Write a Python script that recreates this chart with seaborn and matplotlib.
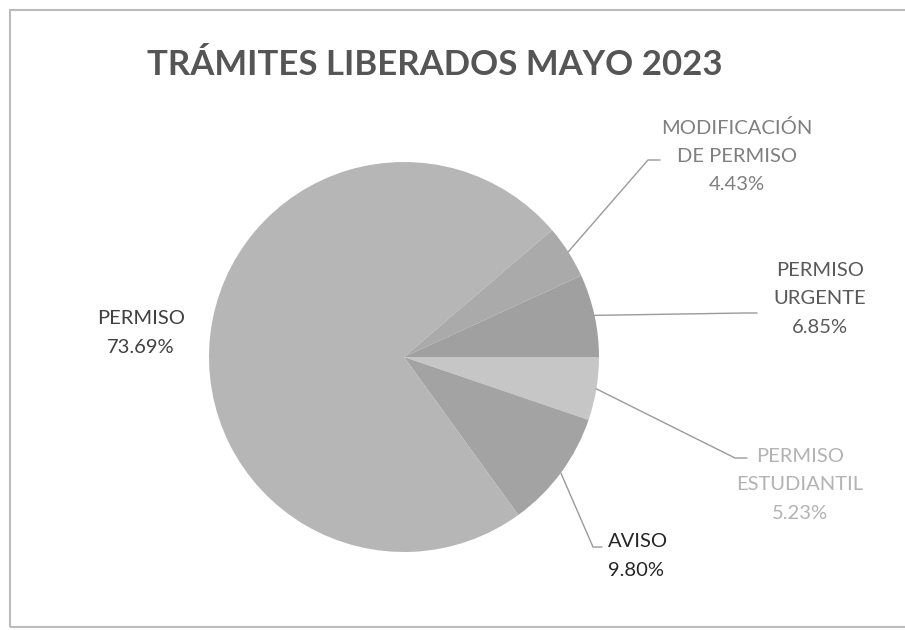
import numpy as np
import pandas as pd
import seaborn as sns
import matplotlib.pyplot as plt
from matplotlib.patches import Rectangle

# data, in the order the slices are drawn (clockwise from 3 o'clock)
categorias = ['PERMISO\nESTUDIANTIL', 'AVISO', 'PERMISO', 'MODIFICACIÓN\nDE PERMISO', 'PERMISO\nURGENTE']
porcentajes = [5.23, 9.80, 73.69, 4.43, 6.85]
titulo = 'TRÁMITES LIBERADOS MAYO 2023'

df = pd.DataFrame({'cat': categorias, 'pct': porcentajes})

colores_slice = ['#c6c6c6', '#a3a3a3', '#b6b6b6', '#aaaaaa', '#a0a0a0']
colores_txt = ['#b3b3b3', '#262626', '#404040', '#7f7f7f', '#595959']
# label text position (pixel coords, y down) and leader elbow
pos_txt = [(800, 485), (608, 556), (141, 333), (737, 156), (820, 299)]
codo = [(735, 458), (593, 547), None, (648, 160), (745, 313)]
ha_txt = ['center', 'left', 'center', 'center', 'center']

W, H = 905, 630
cx, cy, r = 404, 357, 195

sns.set_theme(style='white')
plt.rcParams['font.family'] = ['Lato', 'DejaVu Sans']

fig = plt.figure(figsize=(W / 100, H / 100), dpi=100)
ax = fig.add_axes([0, 0, 1, 1])

wedges, _ = ax.pie(df['pct'], colors=colores_slice, startangle=0, counterclock=False,
                   center=(cx, H - cy), radius=r, frame=True,
                   wedgeprops=dict(linewidth=0))
ax.set_xlim(0, W)
ax.set_ylim(0, H)
ax.set_aspect('equal')
ax.axis('off')

for i, w in enumerate(wedges):
    ang = np.deg2rad((w.theta1 + w.theta2) / 2)
    x0 = cx + r * np.cos(ang)
    y0 = (H - cy) + r * np.sin(ang)
    tx, ty = pos_txt[i]
    if codo[i] is not None:
        ex, ey = codo[i]
        if ha_txt[i] == 'left':
            xs = [x0, ex, tx - 6]
        else:
            xs = [x0, ex, ex + 12]
        ys = [y0, H - ey, H - ey]
        ax.plot(xs, ys, color='#9a9a9a', lw=1)
    txt = df['cat'][i] + '\n' + f"{df['pct'][i]:.2f}%"
    ax.text(tx, H - ty, txt, ha=ha_txt[i], va='center', fontsize=14.5,
            color=colores_txt[i], linespacing=1.8)

ax.text(435, H - 65, titulo, ha='center', va='center', fontsize=25,
        fontweight='bold', color='#555555')

fig.patches.append(Rectangle((10 / W, 3 / H), 1.2, 1 - 13 / H, transform=fig.transFigure,
                             fill=False, edgecolor='#bbbbbb', lw=1.5))

plt.savefig('out.png', dpi=100)
